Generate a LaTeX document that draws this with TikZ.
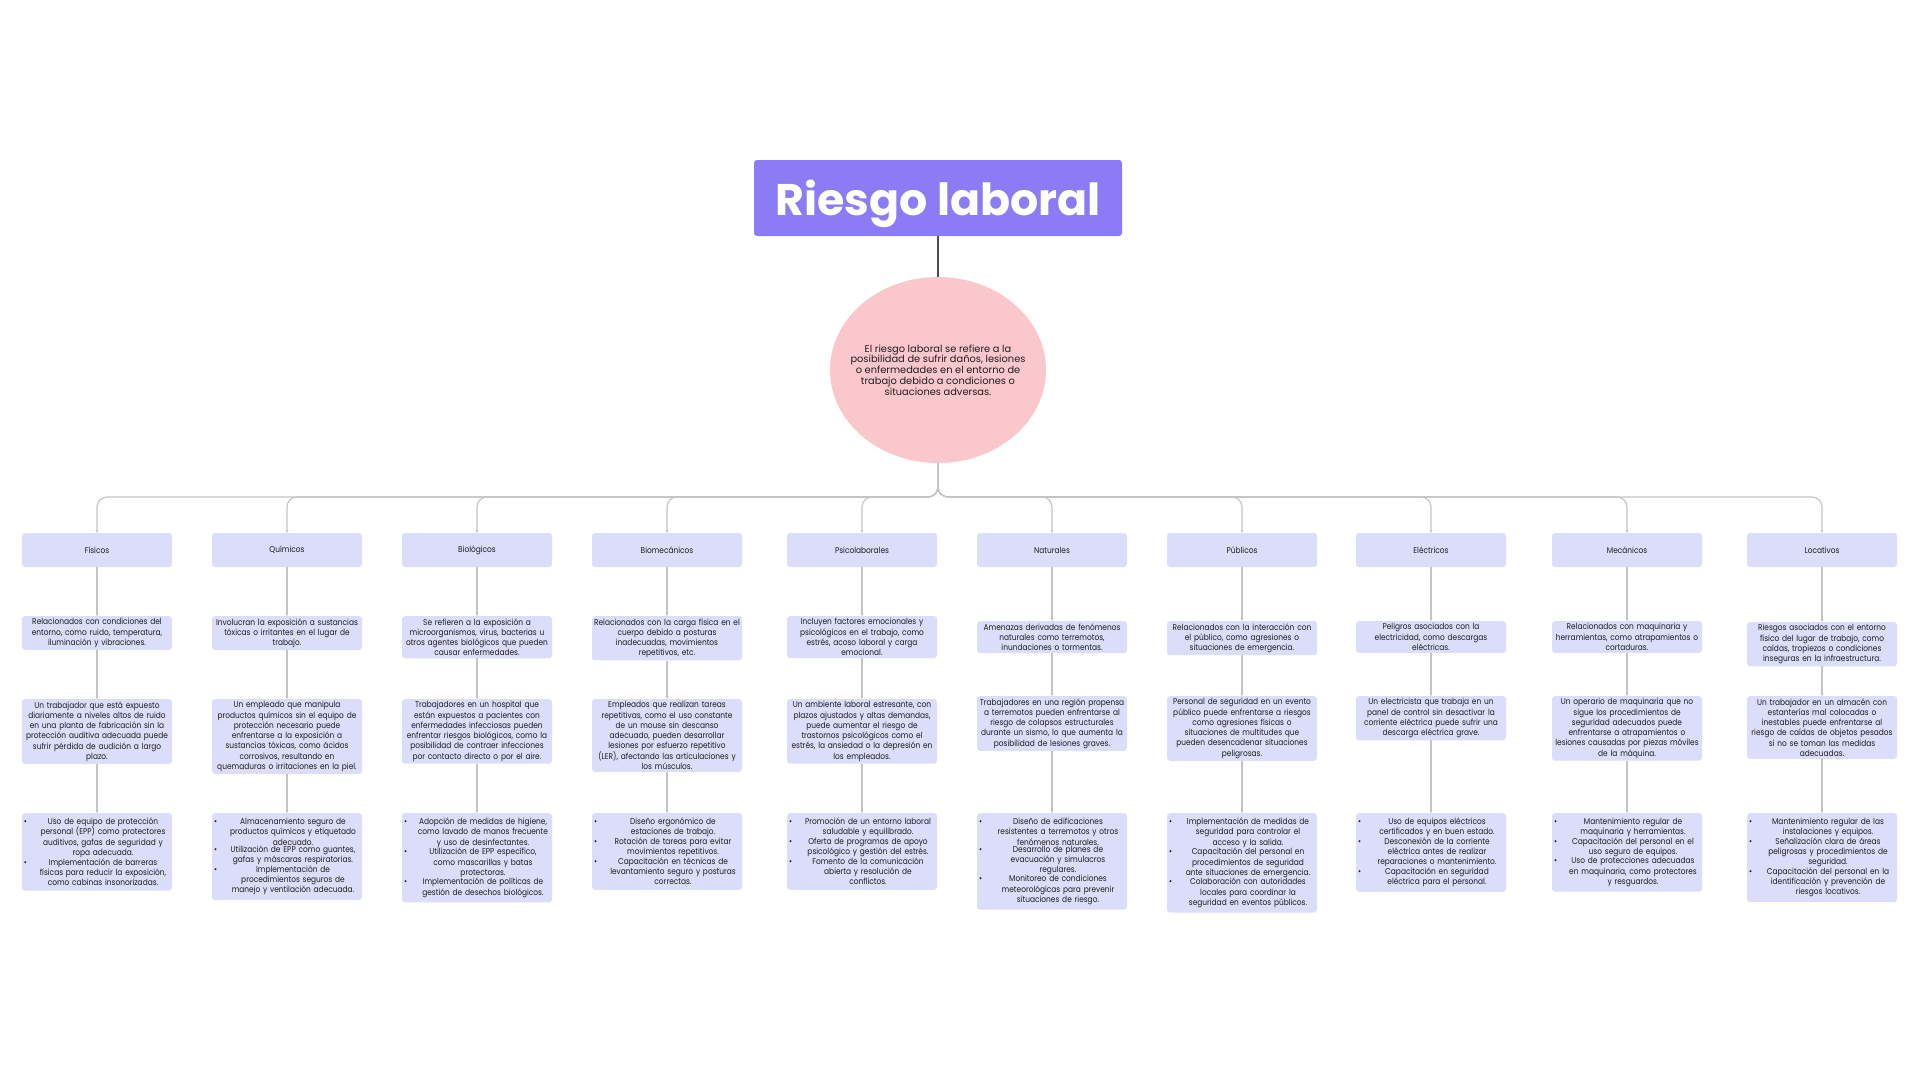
\documentclass[tikz,border=0pt]{standalone}
\usepackage{fontspec}
\setmainfont{Poppins}
\newfontfamily\riskbody{Poppins}[FakeStretch=0.88]
\usepackage{tikz}
\usetikzlibrary{shapes.geometric,arrows.meta,positioning}
\usepackage{xcolor}
\definecolor{riskpurple}{HTML}{8B7CF6}
\definecolor{risklav}{HTML}{DCDDFB}
\definecolor{riskpink}{HTML}{F9C7CC}
\definecolor{riskline}{HTML}{C4C4C4}
\definecolor{riskink}{HTML}{1E1E1E}
\newcommand{\bodyfont}{\riskbody\fontsize{12pt}{14.6pt}\selectfont}
\newcommand{\itm}[1]{\noindent\makebox[6mm][l]{\textbullet}%
  \parbox[t]{67mm}{\centering #1}\par}
\tikzset{
  >=Stealth,
  titlebox/.style={rectangle,fill=riskpurple,rounded corners=1.5mm,
                   minimum width=184mm,minimum height=38mm,text=white,
                   text depth=0pt,
                   font=\fontsize{63pt}{66pt}\selectfont\bfseries},
  defell/.style={ellipse,fill=riskpink,minimum width=108mm,
                 minimum height=93mm,inner xsep=-14mm,inner ysep=0pt,
                 align=center,text=riskink,
                 font=\fontsize{14pt}{15.4pt}\selectfont},
  catbox/.style={rectangle,fill=risklav,rounded corners=1.5mm,
                 minimum width=75mm,minimum height=17mm,text=riskink,
                 font=\bodyfont},
  infobox/.style={rectangle,fill=risklav,rounded corners=1.5mm,anchor=north,
                  text width=74mm,inner xsep=0.5mm,inner ysep=3.3pt,
                  align=center,text=riskink,font=\bodyfont},
  listbox/.style={infobox,text width=73mm,inner xsep=1mm,inner ysep=7pt,
                  align=left},
  arr/.style={-{Stealth[length=4pt,width=4pt]},line width=1.6pt,draw=riskline},
  busline/.style={arr,rounded corners=5mm},
  stem/.style={line width=2pt,draw=riskink!80},
}
\begin{document}
\begin{tikzpicture}[x=0.5mm,y=-0.5mm]
    \fill[white] (0,0) rectangle (1920,1080);
    \useasboundingbox (0,0) rectangle (1920,1080);

    % Title and definition
    \node[titlebox] (title) at (938,198) {Riesgo laboral};
    \node[defell] (def) at (938,370) {El riesgo laboral se refiere a la\\
      posibilidad de sufrir daños, lesiones\\o enfermedades en el entorno de\\
      trabajo debido a condiciones o\\situaciones adversas.};
    \coordinate (bus) at (938,497);

    % Category boxes
    \node[catbox] (fis) at (97,550)   {Físicos};
    \node[catbox] (qui) at (287,550)  {Químicos};
    \node[catbox] (bio) at (477,550)  {Biológicos};
    \node[catbox] (bme) at (667,550)  {Biomecánicos};
    \node[catbox] (psi) at (862,550)  {Psicolaborales};
    \node[catbox] (nat) at (1052,550) {Naturales};
    \node[catbox] (pub) at (1242,550) {Públicos};
    \node[catbox] (ele) at (1431,550) {Eléctricos};
    \node[catbox] (mec) at (1627,550) {Mecánicos};
    \node[catbox] (loc) at (1822,550) {Locativos};

    % Descriptions
    \node[infobox] (fisdef) at (97,616) {Relacionados con condiciones del\\
      entorno, como ruido, temperatura,\\iluminación y vibraciones.};
    \node[infobox] (quidef) at (287,616) {Involucran la exposición a sustancias\\
      tóxicas o irritantes en el lugar de\\trabajo.};
    \node[infobox] (biodef) at (477,616) {Se refieren a la exposición a\\
      microorganismos, virus, bacterias u\\otros agentes biológicos que pueden\\
      causar enfermedades.};
    \node[infobox] (bmedef) at (667,616) {Relacionados con la carga física en el\\
      cuerpo debido a posturas\\inadecuadas, movimientos\\repetitivos, etc.};
    \node[infobox] (psidef) at (862,616) {Incluyen factores emocionales y\\
      psicológicos en el trabajo, como\\estrés, acoso laboral y carga\\emocional.};
    \node[infobox] (natdef) at (1052,621) {Amenazas derivadas de fenómenos\\
      naturales como terremotos,\\inundaciones o tormentas.};
    \node[infobox] (pubdef) at (1242,621) {Relacionados con la interacción con\\
      el público, como agresiones o\\situaciones de emergencia.};
    \node[infobox] (eledef) at (1431,621) {Peligros asociados con la\\
      electricidad, como descargas\\eléctricas.};
    \node[infobox] (mecdef) at (1627,621) {Relacionados con maquinaria y\\
      herramientas, como atrapamientos o\\cortaduras.};
    \node[infobox] (locdef) at (1822,622) {Riesgos asociados con el entorno\\
      físico del lugar de trabajo, como\\caídas, tropiezos o condiciones\\
      inseguras en la infraestructura.};

    % Examples
    \node[infobox] (fisej) at (97,699) {Un trabajador que está expuesto\\
      diariamente a niveles altos de ruido\\en una planta de fabricación sin la\\
      protección auditiva adecuada puede\\sufrir pérdida de audición a largo\\plazo.};
    \node[infobox] (quiej) at (287,699) {Un empleado que manipula\\
      productos químicos sin el equipo de\\protección necesario puede\\
      enfrentarse a la exposición a\\sustancias tóxicas, como ácidos\\
      corrosivos, resultando en\\quemaduras o irritaciones en la piel.};
    \node[infobox] (bioej) at (477,699) {Trabajadores en un hospital que\\
      están expuestos a pacientes con\\enfermedades infecciosas pueden\\
      enfrentar riesgos biológicos, como la\\posibilidad de contraer infecciones\\
      por contacto directo o por el aire.};
    \node[infobox] (bmeej) at (667,699) {Empleados que realizan tareas\\
      repetitivas, como el uso constante\\de un mouse sin descanso\\
      adecuado, pueden desarrollar\\lesiones por esfuerzo repetitivo\\
      (LER), afectando las articulaciones y\\los músculos.};
    \node[infobox] (psiej) at (862,699) {Un ambiente laboral estresante, con\\
      plazos ajustados y altas demandas,\\puede aumentar el riesgo de\\
      trastornos psicológicos como el\\estrés, la ansiedad o la depresión en\\
      los empleados.};
    \node[infobox] (natej) at (1052,696) {Trabajadores en una región propensa\\
      a terremotos pueden enfrentarse al\\riesgo de colapsos estructurales\\
      durante un sismo, lo que aumenta la\\posibilidad de lesiones graves.};
    \node[infobox] (pubej) at (1242,696) {Personal de seguridad en un evento\\
      público puede enfrentarse a riesgos\\como agresiones físicas o\\
      situaciones de multitudes que\\pueden desencadenar situaciones\\peligrosas.};
    \node[infobox] (eleej) at (1431,696) {Un electricista que trabaja en un\\
      panel de control sin desactivar la\\corriente eléctrica puede sufrir una\\
      descarga eléctrica grave.};
    \node[infobox] (mecej) at (1627,696) {Un operario de maquinaria que no\\
      sigue los procedimientos de\\seguridad adecuados puede\\
      enfrentarse a atrapamientos o\\lesiones causadas por piezas móviles\\
      de la máquina.};
    \node[infobox] (locej) at (1822,696) {Un trabajador en un almacén con\\
      estanterías mal colocadas o\\inestables puede enfrentarse al\\
      riesgo de caídas de objetos pesados\\si no se toman las medidas\\adecuadas.};

    % Prevention lists
    \node[listbox] (fisprev) at (97,813) {%
      \itm{Uso de equipo de protección\\personal (EPP) como protectores\\
        auditivos, gafas de seguridad y\\ropa adecuada.}
      \itm{Implementación de barreras\\físicas para reducir la exposición,\\
        como cabinas insonorizadas.}};
    \node[listbox] (quiprev) at (287,813) {%
      \itm{Almacenamiento seguro de\\productos químicos y etiquetado\\adecuado.}
      \itm{Utilización de EPP como guantes,\\gafas y máscaras respiratorias.}
      \itm{Implementación de\\procedimientos seguros de\\
        manejo y ventilación adecuada.}};
    \node[listbox] (bioprev) at (477,813) {%
      \itm{Adopción de medidas de higiene,\\como lavado de manos frecuente\\
        y uso de desinfectantes.}
      \itm{Utilización de EPP específico,\\como mascarillas y batas\\protectoras.}
      \itm{Implementación de políticas de\\gestión de desechos biológicos.}};
    \node[listbox] (bmeprev) at (667,813) {%
      \itm{Diseño ergonómico de\\estaciones de trabajo.}
      \itm{Rotación de tareas para evitar\\movimientos repetitivos.}
      \itm{Capacitación en técnicas de\\levantamiento seguro y posturas\\
        correctas.}};
    \node[listbox] (psiprev) at (862,813) {%
      \itm{Promoción de un entorno laboral\\saludable y equilibrado.}
      \itm{Oferta de programas de apoyo\\psicológico y gestión del estrés.}
      \itm{Fomento de la comunicación\\abierta y resolución de\\conflictos.}};
    \node[listbox] (natprev) at (1052,813) {%
      \itm{Diseño de edificaciones\\resistentes a terremotos y otros\\
        fenómenos naturales.}
      \itm{Desarrollo de planes de\\evacuación y simulacros\\regulares.}
      \itm{Monitoreo de condiciones\\meteorológicas para prevenir\\
        situaciones de riesgo.}};
    \node[listbox] (pubprev) at (1242,813) {%
      \itm{Implementación de medidas de\\seguridad para controlar el\\
        acceso y la salida.}
      \itm{Capacitación del personal en\\procedimientos de seguridad\\
        ante situaciones de emergencia.}
      \itm{Colaboración con autoridades\\locales para coordinar la\\
        seguridad en eventos públicos.}};
    \node[listbox] (eleprev) at (1431,813) {%
      \itm{Uso de equipos eléctricos\\certificados y en buen estado.}
      \itm{Desconexión de la corriente\\eléctrica antes de realizar\\
        reparaciones o mantenimiento.}
      \itm{Capacitación en seguridad\\eléctrica para el personal.}};
    \node[listbox] (mecprev) at (1627,813) {%
      \itm{Mantenimiento regular de\\maquinaria y herramientas.}
      \itm{Capacitación del personal en el\\uso seguro de equipos.}
      \itm{Uso de protecciones adecuadas\\en maquinaria, como protectores\\
        y resguardos.}};
    \node[listbox] (locprev) at (1822,813) {%
      \itm{Mantenimiento regular de las\\instalaciones y equipos.}
      \itm{Señalización clara de áreas\\peligrosas y procedimientos de\\
        seguridad.}
      \itm{Capacitación del personal en la\\identificación y prevención de\\
        riesgos locativos.}};

    % Arrows
    \draw[stem] (title) -- (def);
    \foreach \c in {fis,qui,bio,bme,psi,nat,pub,ele,mec,loc}{
      \draw[busline] (def.south) -- (bus) -| (\c.north);
      \draw[arr] (\c) -- (\c def);
      \draw[arr] (\c def) -- (\c ej);
      \draw[arr] (\c ej) -- (\c prev);
    }
  \end{tikzpicture}
\end{document}
